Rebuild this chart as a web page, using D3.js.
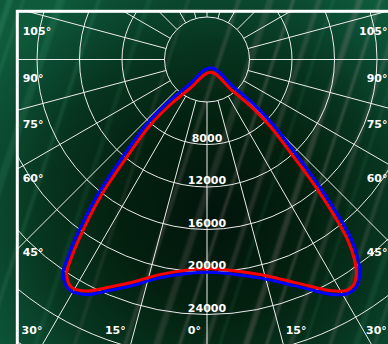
<!DOCTYPE html>
<html><head><meta charset="utf-8">
<script src="https://cdn.jsdelivr.net/npm/d3@7"></script>
<style>html,body{margin:0;padding:0;background:#06301f;}svg{display:block}</style>
</head><body>
<svg id="c" width="388" height="344"></svg>
<script>
// ---------- data ----------
const ringTicks = [4000, 8000, 12000, 16000, 20000, 24000, 28000, 32000, 36000, 40000];
const ringLabels = ["8000", "12000", "16000", "20000", "24000"];
const spokeStep = 15;
const sideAngles = [105, 90, 75, 60, 45];
const sideLabels = ["105°", "90°", "75°", "60°", "45°"];
const bottomAngles = [-30, -15, 0, 15, 30];
const bottomLabels = ["30°", "15°", "0°", "15°", "30°"];

// gamma (deg from nadir, + = right) and intensity (cd)
const redGamma = [0, 13.4, 18.4, 24.1, 28.3, 31.1, 32.9, 34.9, 36.3, 37.9, 40.3, 41.8, 43.3, 43.1, 38.7, 16.2,
  -30.4, -39.1, -40.8, -39.6, -37.8, -35.4, -34.4, -33.2, -30.7, -27.5, -23.1, -19.0, -11.5];
const redCd = [19700, 20780, 21770, 23320, 24720, 25390, 25330, 24580, 23480, 21590, 16160, 11900, 8790, 6150, 3620, 1245,
  3160, 5520, 8210, 11370, 16430, 20900, 22550, 24110, 24930, 24560, 23280, 22230, 20590];
const blueGamma = [0, 13.3, 18.3, 23.9, 27.9, 31.1, 33.2, 35.5, 37.0, 38.8, 41.4, 43.4, 45.4, 46.2, 43.9, 24.0,
  -36.1, -42.5, -43.1, -41.3, -38.9, -36.3, -35.2, -33.9, -30.9, -27.1, -22.9, -18.9, -11.5];
const blueCd = [20020, 21110, 22100, 23650, 25020, 25720, 25620, 24770, 23650, 21670, 16210, 11920, 8810, 6130, 3570, 855,
  3060, 5480, 8220, 11400, 16480, 20960, 22650, 24290, 25250, 24850, 23600, 22550, 20910];

// background streaks: [bottom x, width, colour, opacity]
const streaks = [
  [-110, 6, "#5fbf90", 0.18], [-95, 3, "#5fbf90", 0.15], [-60, 8, "#4fae82", 0.14], [-20, 4, "#6fcf9f", 0.12],
  [30, 5, "#4fae82", 0.10], [70, 3, "#c9a7a7", 0.12], [120, 4, "#c9a7a7", 0.18], [150, 7, "#c9a7a7", 0.14],
  [175, 3, "#d8b8b8", 0.22], [200, 5, "#c9a7a7", 0.16], [215, 3, "#4fae82", 0.12], [240, 6, "#c9a7a7", 0.2],
  [262, 3, "#d8b8b8", 0.22], [285, 5, "#c9a7a7", 0.15], [300, 3, "#4fae82", 0.12], [325, 4, "#c9a7a7", 0.16],
  [350, 6, "#4fae82", 0.12], [370, 3, "#c9a7a7", 0.14]
];

// ---------- layout ----------
const W = 388, H = 344;
const cx = 207, cy = 59.5;
const frame = {x: 17.3, y: 11.3, w: 379.4, h: 380};
const r = d3.scaleLinear().domain([0, 24000]).range([0, 255]);
const rad = d => d * Math.PI / 180;
const px = (g, R) => cx + R * Math.sin(rad(g));
const py = (g, R) => cy + R * Math.cos(rad(g));

const svg = d3.select("#c");
const defs = svg.append("defs");
const rg = defs.append("radialGradient").attr("id", "bg").attr("gradientUnits", "userSpaceOnUse")
  .attr("cx", 215).attr("cy", 215).attr("r", 265);
[[0, "#02150c"], [0.35, "#03200f"], [0.65, "#07351f"], [0.85, "#0b4a31"], [1, "#0e5a3b"]]
  .forEach(([o, c]) => rg.append("stop").attr("offset", o).attr("stop-color", c));
defs.append("filter").attr("id", "blur").append("feGaussianBlur").attr("stdDeviation", 1.2);
defs.append("clipPath").attr("id", "fc").append("rect")
  .attr("x", frame.x).attr("y", frame.y).attr("width", frame.w).attr("height", frame.h);

svg.append("rect").attr("width", W).attr("height", H).attr("fill", "url(#bg)");
const slope = 0.33;
svg.append("g").attr("filter", "url(#blur)").selectAll("path").data(streaks).join("path")
  .attr("d", s => {
    const y0 = H + 10, y1 = -10, dx = slope * (y0 - y1);
    return `M${s[0]},${y0}L${s[0] + s[1]},${y0}L${s[0] + s[1] + dx},${y1}L${s[0] + dx},${y1}Z`;
  })
  .attr("fill", s => s[2]).attr("opacity", s => s[3]);

// ---------- grid ----------
const grid = svg.append("g").attr("clip-path", "url(#fc)");
grid.selectAll("circle").data(ringTicks).join("circle")
  .attr("cx", cx).attr("cy", cy).attr("r", d => r(d))
  .attr("fill", "none").attr("stroke", "#ececec").attr("stroke-width", 1);
const spokes = d3.range(0, 360, spokeStep);
grid.selectAll("line").data(spokes).join("line")
  .attr("x1", g => px(g, r(4000))).attr("y1", g => py(g, r(4000)))
  .attr("x2", g => px(g, 500)).attr("y2", g => py(g, 500))
  .attr("stroke", "#ececec").attr("stroke-width", 1);

// ---------- curves ----------
const line = d3.lineRadial()
  .angle(d => Math.PI - rad(d.g))
  .radius(d => r(d.v))
  .curve(d3.curveCatmullRomClosed.alpha(0.5));
const plot = svg.append("g").attr("clip-path", "url(#fc)")
  .append("g").attr("transform", `translate(${cx},${cy})`);
const blueData = blueGamma.map((g, i) => ({g, v: blueCd[i]}));
const redData = redGamma.map((g, i) => ({g, v: redCd[i]}));
plot.append("path").attr("d", line(blueData)).attr("fill", "none")
  .attr("stroke", "#0000ff").attr("stroke-width", 3).attr("stroke-linejoin", "round");
plot.append("path").attr("d", line(redData)).attr("fill", "none")
  .attr("stroke", "#ff0000").attr("stroke-width", 3).attr("stroke-linejoin", "round");

// ---------- labels ----------
const font = {family: "DejaVu Sans", size: "11px", weight: "bold"};
function txt(x, y, s, anchor) {
  svg.append("text").attr("x", x).attr("y", y).text(s)
    .attr("text-anchor", anchor).attr("fill", "#ffffff")
    .attr("font-family", font.family).attr("font-size", font.size).attr("font-weight", font.weight);
}
ringLabels.forEach(l => txt(cx, cy + r(+l) - 3, l, "middle"));
// side columns: below where each spoke crosses x = 33
sideAngles.forEach((a, i) => {
  const yl = cy + (cx - 33) / Math.tan(rad(a)) + 22;
  txt(22.7, yl, sideLabels[i], "start");
  txt(387.5, yl, sideLabels[i], "end");
});
// bottom row, beside where each spoke crosses y = 329
bottomAngles.forEach((a, i) => {
  const xs = cx + (329 - cy) * Math.tan(rad(a));
  if (a < 0) txt(xs - 9, 333.5, bottomLabels[i], "end");
  else if (a === 0) txt(xs - 6, 333.5, bottomLabels[i], "end");
  else txt(Math.min(xs + 6.5, 366), 333.5, bottomLabels[i], "start");
});

// frame
svg.append("rect").attr("x", frame.x).attr("y", frame.y).attr("width", frame.w).attr("height", frame.h)
  .attr("fill", "none").attr("stroke", "#ffffff").attr("stroke-width", 3);
</script>
</body></html>
